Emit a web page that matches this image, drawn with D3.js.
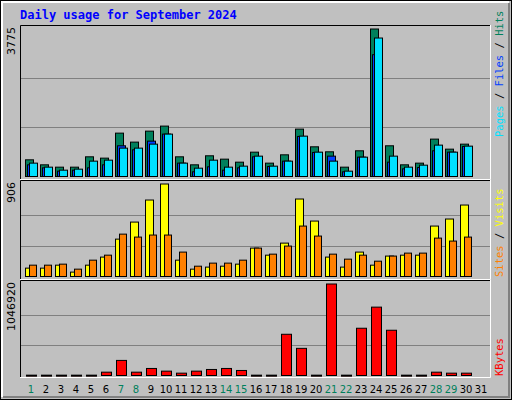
<!DOCTYPE html>
<html>
<head>
<meta charset="utf-8">
<script src="https://cdn.jsdelivr.net/npm/d3@7"></script>
<style>
  body { margin: 0; background: #fff; }
  svg { display: block; }
</style>
</head>
<body>
<svg id="chart" width="512" height="400"></svg>
<script>
const days = d3.range(1, 32)
const weekend = [1, 7, 8, 14, 15, 21, 22, 28, 29]

const hits = [427, 299, 239, 239, 504, 470, 1110, 880, 1161, 1290, 504, 299, 530, 444, 367, 623, 342, 555, 1213, 760, 632, 239, 658, 3775, 786, 299, 342, 957, 700, 828, 0]
const files = [299, 222, 137, 162, 222, 299, 786, 683, 905, 1085, 342, 120, 248, 162, 222, 504, 256, 393, 1025, 615, 521, 120, 495, 3117, 367, 196, 230, 658, 623, 768, 0]
const pages = [342, 239, 162, 188, 393, 418, 726, 726, 828, 1085, 342, 213, 418, 239, 265, 521, 265, 393, 1033, 623, 393, 137, 495, 3544, 521, 239, 290, 803, 623, 777, 0]
const visits = [82, 82, 111, 43, 111, 190, 366, 533, 749, 906, 160, 72, 92, 101, 121, 278, 209, 327, 759, 543, 190, 92, 239, 111, 200, 209, 209, 494, 563, 700, 0]
const sites = [111, 111, 121, 72, 160, 209, 415, 386, 406, 406, 239, 101, 131, 131, 160, 278, 219, 298, 494, 396, 219, 170, 209, 150, 200, 229, 229, 376, 347, 386, 0]
const kbytes = [4000, 4000, 4000, 4000, 4000, 38000, 172600, 38000, 80500, 49900, 26800, 49900, 69000, 80500, 57500, 4000, 4000, 471700, 310600, 4000, 1046920, 4000, 540700, 782300, 517700, 4000, 4000, 38000, 26800, 26800, 0]

const svg = d3.select('#chart')
const W = 512, H = 400
const left = 20, right = 491

// frame
svg.append('rect').attr('x', 0.5).attr('y', 0.5).attr('width', W - 1).attr('height', H - 1)
  .attr('fill', '#c0c0c0').attr('stroke', '#000')
svg.append('path').attr('d', `M2,${H - 3}V2H${W - 3}`).attr('fill', 'none').attr('stroke', '#fff').attr('stroke-width', 2)
svg.append('path').attr('d', `M3,${H - 3}H${W - 3}V3`).attr('fill', 'none').attr('stroke', '#808080').attr('stroke-width', 2)

svg.append('text').attr('x', 20).attr('y', 19)
  .attr('font-family', 'DejaVu Sans Mono').attr('font-weight', 'bold').attr('font-size', 12)
  .attr('fill', '#0000ff').text('Daily usage for September 2024')

const x = d3.scaleLinear().domain([1, 31]).range([25, 475])

const panels = [
  { top: 25, bottom: 180, y0: 176.5, y1: 29, max: 3775 },
  { top: 180, bottom: 280, y0: 276.5, y1: 184, max: 906 },
  { top: 280, bottom: 378, y0: 375.5, y1: 284, max: 1046920 }
]

panels.forEach(p => {
  p.y = d3.scaleLinear().domain([0, p.max]).range([p.y0, p.y1])
  const g = svg.append('g')
  g.append('rect').attr('x', left).attr('y', p.top).attr('width', right - left).attr('height', p.bottom - p.top)
    .attr('fill', '#c0c0c0')
  g.selectAll('line.grid').data([p.max / 3, p.max * 2 / 3]).join('line')
    .attr('x1', left + 1).attr('x2', right - 1)
    .attr('y1', d => Math.round(p.y(d)) + 0.5).attr('y2', d => Math.round(p.y(d)) + 0.5)
    .attr('stroke', '#808080')
  p.g = g
  svg.append('text')
    .attr('transform', `translate(15,${p.y1 - 2}) rotate(-90)`)
    .attr('text-anchor', 'end')
    .attr('font-family', 'DejaVu Sans').attr('font-size', 11).attr('fill', '#000')
    .text(p.max)
})

function bars(p, data, color, dx, w) {
  p.g.append('g').selectAll('rect').data(data.map((v, i) => ({ v, d: i + 1 })).filter(d => d.v > 0)).join('rect')
    .attr('x', d => x(d.d) + dx + 0.5)
    .attr('y', d => p.y(d.v))
    .attr('width', w)
    .attr('height', d => Math.max(1, p.y0 - p.y(d.v)))
    .attr('fill', color).attr('stroke', '#000')
}

bars(panels[0], hits, '#00805c', 0, 8)
bars(panels[0], files, '#0040ff', 2, 8)
bars(panels[0], pages, '#00e0ff', 4, 8)
bars(panels[1], visits, '#ffff00', 0, 8)
bars(panels[1], sites, '#ff8000', 4, 7)
bars(panels[2], kbytes, '#ff0000', 1, 10)

// panel borders
panels.forEach(p => {
  svg.append('path').attr('d', `M${left + 0.5},${p.bottom}V${p.top + 0.5}H${right}`)
    .attr('fill', 'none').attr('stroke', '#000')
  svg.append('path').attr('d', `M${left},${p.bottom - 0.5}H${right - 0.5}V${p.top}`)
    .attr('fill', 'none').attr('stroke', '#fff')
})

// day labels
svg.append('g').selectAll('text').data(days).join('text')
  .attr('x', d => x(d) + 6).attr('y', 393)
  .attr('text-anchor', 'middle')
  .attr('font-family', 'DejaVu Sans').attr('font-size', 10)
  .attr('fill', d => weekend.includes(d) ? '#00805c' : '#000')
  .text(d => d)

// right-side legends
function legend(yBase, parts) {
  const t = svg.append('text')
    .attr('transform', `translate(503,${yBase}) rotate(-90)`)
    .attr('font-family', 'DejaVu Sans Mono').attr('font-size', 10.5)
    .attr('xml:space', 'preserve')
  parts.forEach(([s, c]) => t.append('tspan').attr('fill', c).text(s))
}
legend(137, [['Pages', '#00e0ff'], [' / ', '#000'], ['Files', '#0040ff'], [' / ', '#000'], ['Hits', '#00805c']])
legend(277, [['Sites', '#ff8000'], [' / ', '#000'], ['Visits', '#ffff00']])
legend(376, [['KBytes', '#ff0000']])
</script>
</body>
</html>
